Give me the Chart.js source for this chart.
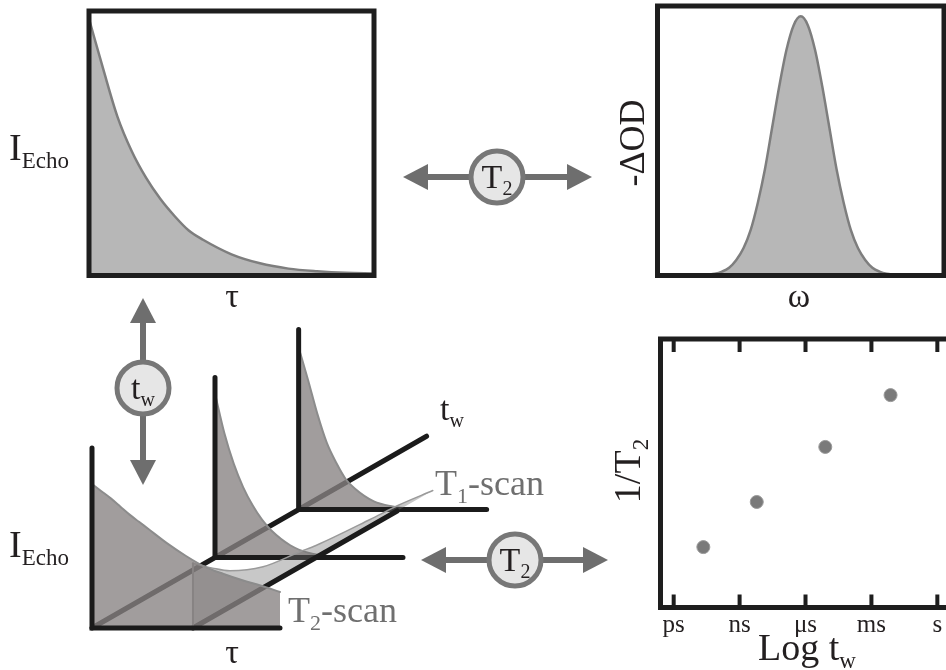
<!DOCTYPE html>
<html>
<head>
<meta charset="utf-8">
<script src="https://cdn.jsdelivr.net/npm/chart.js@4.4.1/dist/chart.umd.min.js"></script>
<style>
html, body { margin: 0; padding: 0; background: #fff; overflow: hidden; }
#wrap { position: relative; width: 946px; height: 670px; }
canvas { position: absolute; }
</style>
</head>
<body>
<div id="wrap">
<canvas id="sketch" width="946" height="670" style="left:0;top:0"></canvas>
<canvas id="echoChart" width="305" height="290" style="left:80px;top:0"></canvas>
<canvas id="specChart" width="306" height="290" style="left:640px;top:0"></canvas>
<canvas id="rateChart" width="360" height="350" style="left:600px;top:320px"></canvas>
</div>
<script>
// echo decay, top left
const tau = [0, 0.5, 1, 1.5, 2, 2.5, 3, 3.5, 4, 5, 6, 7, 8, 9, 10]
const echo = [0.97, 0.78, 0.6, 0.47, 0.37, 0.29, 0.225, 0.17, 0.135, 0.08, 0.046, 0.026, 0.016, 0.01, 0.008]

// absorption line, top right
const omega = [-5, -4, -3.5, -3, -2.75, -2.5, -2.25, -2, -1.75, -1.5, -1.25, -1, -0.75, -0.5, -0.25, 0,
	0.25, 0.5, 0.75, 1, 1.25, 1.5, 1.75, 2, 2.25, 2.5, 2.75, 3, 3.5, 4, 5]
const absorb = [0, 0, 0.002, 0.007, 0.015, 0.03, 0.06, 0.105, 0.175, 0.28, 0.41, 0.57, 0.73, 0.87, 0.965, 1,
	0.965, 0.87, 0.73, 0.57, 0.41, 0.28, 0.175, 0.105, 0.06, 0.03, 0.015, 0.007, 0.002, 0, 0]

// 1/T2 against log waiting time, bottom right
const timeTicks = [0, 1, 2, 3, 4]
const timeLabels = ['ps', 'ns', 'μs', 'ms', 's']
const logTw = [0.45, 1.26, 2.3, 3.29]
const invT2 = [0.225, 0.393, 0.598, 0.791]

// stacked echo decays of the sketch, bottom left
const tauSketch = [0, 0.5, 1, 1.5, 2, 2.5, 3, 4, 5, 6, 7, 8, 9, 10]
const echoEarly = [0.8, 0.76, 0.72, 0.675, 0.63, 0.59, 0.55, 0.47, 0.4, 0.34, 0.3, 0.265, 0.235, 0.2]
const echoMid = [0.91, 0.69, 0.52, 0.39, 0.29, 0.21, 0.15, 0.068, 0.025, 0.008, 0.002, 0, 0, 0]
const echoLate = [0.9, 0.72, 0.53, 0.37, 0.26, 0.17, 0.115, 0.045, 0.017, 0.004, 0, 0, 0, 0]
const twPanels = [0, 1, 1.68]
const twAxisEnd = 2.72
// T1 scan: echo at one fixed tau while t_w grows
const tauScan = 5.37
const twScan = [0, 0.16, 0.3, 0.57, 0.87, 1, 1.44, 1.67, 1.95]
const t1Scan = [0.36, 0.27, 0.2, 0.117, 0.083, 0.067, 0.039, 0.028, 0]

const SERIF = '"Liberation Serif", "Times New Roman", serif'
const INK = '#231f20'
const ARROW = '#6e6e6e'

// text with subscripts, parts starting with "_" are lowered and smaller
function richText(ctx, parts, x, y, size, color, align) {
	ctx.save()
	ctx.fillStyle = color
	ctx.textAlign = 'left'
	ctx.textBaseline = 'alphabetic'
	const small = Math.round(size * 0.6)
	const pieces = parts.map(p => {
		const sub = p[0] === '_'
		const txt = sub ? p.slice(1) : p
		ctx.font = (sub ? small : size) + 'px ' + SERIF
		return {txt, sub, w: ctx.measureText(txt).width}
	})
	const total = pieces.reduce((s, p) => s + p.w, 0)
	let cx = align === 'center' ? x - total / 2 : x
	pieces.forEach(p => {
		ctx.font = (p.sub ? small : size) + 'px ' + SERIF
		ctx.fillText(p.txt, cx, p.sub ? y + size * 0.22 : y)
		cx += p.w
	})
	ctx.restore()
}

function rotatedText(ctx, parts, x, y, size, color) {
	ctx.save()
	ctx.translate(x, y)
	ctx.rotate(-Math.PI / 2)
	richText(ctx, parts, 0, 0, size, color, 'center')
	ctx.restore()
}

function doubleArrow(ctx, x1, y1, x2, y2) {
	const len = Math.hypot(x2 - x1, y2 - y1)
	const ux = (x2 - x1) / len, uy = (y2 - y1) / len
	const head = 25, half = 13
	ctx.save()
	ctx.strokeStyle = ARROW
	ctx.fillStyle = ARROW
	ctx.lineWidth = 6
	ctx.beginPath()
	ctx.moveTo(x1 + ux * head, y1 + uy * head)
	ctx.lineTo(x2 - ux * head, y2 - uy * head)
	ctx.stroke()
	;[[x1, y1, 1], [x2, y2, -1]].forEach(([tx, ty, s]) => {
		const bx = tx + ux * head * s, by = ty + uy * head * s
		ctx.beginPath()
		ctx.moveTo(tx, ty)
		ctx.lineTo(bx - uy * half, by + ux * half)
		ctx.lineTo(bx + uy * half, by - ux * half)
		ctx.closePath()
		ctx.fill()
	})
	ctx.restore()
}

function badge(ctx, cx, cy, parts) {
	ctx.save()
	ctx.beginPath()
	ctx.arc(cx, cy, 26, 0, Math.PI * 2)
	ctx.fillStyle = '#e6e6e6'
	ctx.fill()
	ctx.lineWidth = 5
	ctx.strokeStyle = '#777'
	ctx.stroke()
	ctx.restore()
	richText(ctx, parts, cx, cy + 11, 34, INK, 'center')
}

const boxPlugin = {
	id: 'box',
	afterDraw(chart) {
		const {ctx, chartArea: a} = chart
		ctx.save()
		ctx.strokeStyle = '#1e1e1e'
		ctx.lineWidth = 5
		ctx.strokeRect(a.left, a.top, a.right - a.left, a.bottom - a.top)
		ctx.restore()
	}
}

// ---------- bottom left sketch, whole page canvas ----------
const O = {x: 92, y: 628}
const TAU_PX = 18.8, TW_DX = 123, TW_DY = -70.5, H_PX = 180
const proj = (t, w, h) => ({x: O.x + t * TAU_PX + w * TW_DX, y: O.y + w * TW_DY - h * H_PX})

const sketchSets = []
function addLine(points, color, width, order, extra) {
	sketchSets.push(Object.assign({
		data: points, borderColor: color, borderWidth: width, pointRadius: 0,
		fill: false, order: order, borderCapStyle: 'round'
	}, extra || {}))
}
const BLACK = '#1b1b1b'
const PANEL = 'rgba(134,130,130,0.78)'

addLine([proj(0, 0, 0), proj(0, twAxisEnd, 0)], BLACK, 5, 30)

const panelVals = [echoLate, echoMid, echoEarly]
const panelW = [twPanels[2], twPanels[1], twPanels[0]]
panelVals.forEach((vals, k) => {
	const w = panelW[k]
	const base = proj(0, w, 0)
	const ord = 28 - k * 6
	addLine(tauSketch.map((t, i) => proj(t, w, vals[i])), '#8c8c8c', 2, ord, {
		fill: {value: base.y}, backgroundColor: PANEL, cubicInterpolationMode: 'monotone'
	})
	addLine([proj(0, w, 1), base, proj(10, w, 0)], BLACK, 5, ord - 1, {borderJoinStyle: 'miter'})
	if (k === 1) {
		// T1 scan ribbon sits in front of the middle panel
		addLine(twScan.map((w2, i) => proj(tauScan, w2, t1Scan[i])), '#9a9a9a', 1.5, ord - 2, {
			fill: '+1', backgroundColor: 'rgba(114,114,114,0.39)', cubicInterpolationMode: 'monotone'
		})
		addLine([proj(tauScan, 0, 0), proj(tauScan, twScan[twScan.length - 1], 0)], 'rgba(0,0,0,0)', 0, ord - 2)
		addLine([proj(tauScan, 0, 0), proj(tauScan, 1.66, 0)], BLACK, 5, ord - 3)
		addLine([proj(tauScan, 0, 0), proj(tauScan, 0, t1Scan[0])], '#8a8a8a', 2, ord - 4)
	}
})

const sketchPlugin = {
	id: 'sketchLabels',
	afterDraw(chart) {
		const ctx = chart.ctx
		doubleArrow(ctx, 403, 177, 592, 177)
		badge(ctx, 497, 177, ['T', '_2'])
		doubleArrow(ctx, 143, 298, 143, 485)
		badge(ctx, 143, 388, ['t', '_w'])
		doubleArrow(ctx, 421, 560, 608, 560)
		badge(ctx, 515, 560, ['T', '_2'])

		richText(ctx, ['I', '_Echo'], 9, 160, 38, INK)
		richText(ctx, ['τ'], 232, 307, 34, INK, 'center')
		richText(ctx, ['ω'], 799, 307, 34, INK, 'center')
		rotatedText(ctx, ['-ΔOD'], 644, 143, 36, INK)

		richText(ctx, ['I', '_Echo'], 9, 557, 38, INK)
		richText(ctx, ['τ'], 232, 663, 34, INK, 'center')
		richText(ctx, ['t', '_w'], 440, 420, 34, INK)
		richText(ctx, ['T', '_1', '-scan'], 435, 495, 36, '#6f6f6f')
		richText(ctx, ['T', '_2', '-scan'], 288, 622, 36, '#6f6f6f')

		rotatedText(ctx, ['1/T', '_2'], 640, 471, 38, INK)
		richText(ctx, ['Log t', '_w'], 758, 660, 38, INK)
	}
}

new Chart(document.getElementById('sketch'), {
	type: 'line',
	data: {datasets: sketchSets},
	options: {
		responsive: false,
		animation: false,
		layout: {padding: 0},
		plugins: {legend: {display: false}, tooltip: {enabled: false}},
		scales: {
			x: {type: 'linear', display: false, min: 0, max: 946},
			y: {display: false, min: 0, max: 670, reverse: true}
		}
	},
	plugins: [sketchPlugin]
})

// ---------- top left: echo decay ----------
new Chart(document.getElementById('echoChart'), {
	type: 'line',
	data: {
		datasets: [{
			data: tau.map((t, i) => ({x: t, y: echo[i]})),
			borderColor: '#7e7e7e',
			borderWidth: 2.5,
			backgroundColor: '#b7b7b7',
			fill: 'origin',
			pointRadius: 0,
			cubicInterpolationMode: 'monotone'
		}]
	},
	options: {
		responsive: false,
		animation: false,
		layout: {padding: {left: 9, top: 11, right: 11, bottom: 14.5}},
		plugins: {legend: {display: false}, tooltip: {enabled: false}},
		scales: {
			x: {type: 'linear', display: false, min: 0, max: 10},
			y: {display: false, min: 0, max: 1}
		}
	},
	plugins: [boxPlugin]
})

// ---------- top right: absorption line ----------
new Chart(document.getElementById('specChart'), {
	type: 'line',
	data: {
		datasets: [{
			data: omega.map((w, i) => ({x: w, y: absorb[i]})),
			borderColor: '#7e7e7e',
			borderWidth: 2.5,
			backgroundColor: '#b7b7b7',
			fill: 'origin',
			pointRadius: 0,
			cubicInterpolationMode: 'monotone'
		}]
	},
	options: {
		responsive: false,
		animation: false,
		layout: {padding: {left: 17.5, top: 6, right: 2, bottom: 14.5}},
		plugins: {legend: {display: false}, tooltip: {enabled: false}},
		scales: {
			x: {type: 'linear', display: false, min: -5, max: 5},
			y: {display: false, min: 0, max: 1.04}
		}
	},
	plugins: [boxPlugin]
})

// ---------- bottom right: 1/T2 vs log tw ----------
const innerTicks = {
	id: 'innerTicks',
	afterDraw(chart) {
		const {ctx, chartArea: a, scales} = chart
		ctx.save()
		ctx.strokeStyle = '#1e1e1e'
		ctx.lineWidth = 4
		timeTicks.forEach(v => {
			const x = scales.x.getPixelForValue(v)
			ctx.beginPath()
			ctx.moveTo(x, a.top); ctx.lineTo(x, a.top + 13)
			ctx.moveTo(x, a.bottom); ctx.lineTo(x, a.bottom - 13)
			ctx.stroke()
		})
		ctx.restore()
	}
}

new Chart(document.getElementById('rateChart'), {
	type: 'scatter',
	data: {
		datasets: [{
			data: logTw.map((x, i) => ({x: x, y: invT2[i]})),
			pointRadius: 6.5,
			pointBackgroundColor: '#7a7a7a',
			pointBorderColor: '#999',
			pointBorderWidth: 1
		}]
	},
	options: {
		responsive: false,
		animation: false,
		layout: {padding: {left: 60.5, top: 19, right: 5, bottom: 26.5}},
		plugins: {legend: {display: false}, tooltip: {enabled: false}},
		scales: {
			x: {
				type: 'linear', min: -0.2, max: 4.23,
				afterBuildTicks: s => { s.ticks = timeTicks.map(v => ({value: v})) },
				ticks: {
					callback: (v, i) => timeLabels[i],
					font: {family: SERIF, size: 25},
					color: INK,
					padding: 3,
					maxRotation: 0,
					autoSkip: false
				},
				grid: {display: false, drawTicks: false},
				border: {display: false}
			},
			y: {display: false, min: 0, max: 1}
		}
	},
	plugins: [boxPlugin, innerTicks]
})
</script>
</body>
</html>
